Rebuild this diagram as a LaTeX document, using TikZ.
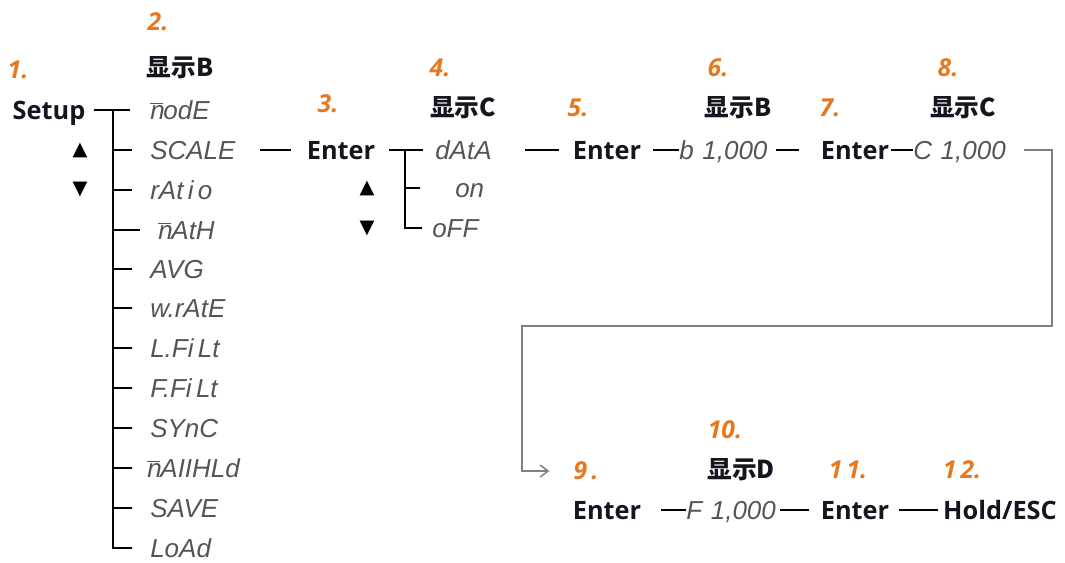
\documentclass[tikz,border=0pt]{standalone}
\usepackage{fontspec}
\setmainfont{Open Sans}
\newfontfamily\cjk{Noto Sans CJK SC}
\newfontfamily\segfont{Liberation Sans}
\newfontfamily\symfont{DejaVu Sans}
\usetikzlibrary{arrows.meta,calc}
\definecolor{numorange}{HTML}{E8781E}
\definecolor{seggray}{HTML}{555555}
\definecolor{flowgray}{HTML}{808080}
\definecolor{inkdark}{HTML}{15151F}
\newcommand{\segbarn}{\ensuremath{\overline{\hbox{n\kern-0.05em}}}}
\begin{document}
\begin{tikzpicture}[x=0.75pt,y=-0.75pt,
  lbl/.style={font=\fontsize{19}{21}\selectfont\bfseries, text=inkdark, inner sep=0pt, text height=13.6pt, text depth=0pt},
  num/.style={font=\fontsize{18.5}{20}\selectfont\bfseries\itshape, text=numorange, inner sep=0pt},
  disp/.style={font=\cjk\fontsize{18.5}{20}\selectfont\bfseries, text=inkdark, inner sep=0pt},
  seg/.style={font=\segfont\itshape\fontsize{19.5}{22}\selectfont, text=seggray, inner sep=0pt, text height=14pt, text depth=0pt, anchor=west},
  arr/.style={font=\symfont\fontsize{14.5}{16}\selectfont, inner sep=0pt},
  tree/.style={draw=black, line width=1.1pt},
  flow/.style={draw=flowgray, line width=1.1pt}
]
\useasboundingbox (0,0) rectangle (1065,562);

% ---- column 1/2 ----
\node[num] (n1) at (18,70) {1.};
\node[lbl] (setup) at (49,110) {Setup};
\node[arr] (up1) at (80,150) {▲};
\node[arr] (dn1) at (80,189) {▼};
\node[num] (n2) at (158,22) {2.};
\node[disp] (dispB1) at (180,68) {显示B};

\coordinate (trunk1) at (113,0);
\node[seg] (m1)  at (150,110) {\segbarn odE};
\node[seg] (m2)  at (150,150) {SCALE};
\node[seg] (m3)  at (150,190) {rAt\,i\,o};
\node[seg] (m4)  at (158,230) {\segbarn AtH};
\node[seg] (m5)  at (150,269) {AVG};
\node[seg] (m6)  at (150,308) {w.rAtE};
\node[seg] (m7)  at (150,348) {L.Fi\,Lt};
\node[seg] (m8)  at (150,388) {F.Fi\,Lt};
\node[seg] (m9)  at (150,428) {SYnC};
\node[seg] (m10) at (147,468) {\segbarn AIIHLd};
\node[seg] (m11) at (150,508) {SAVE};
\node[seg] (m12) at (150,548) {LoAd};

\draw[tree] ([xshift=6pt]setup.east) -- ($(m1.west)+(-20,0)$);
\draw[tree] (m1.west -| trunk1) -- (m12.west -| trunk1) -- ($(m12.west)+(-18,0)$);
\foreach \i in {2,...,9,11}{
  \draw[tree] (m\i.west -| trunk1) -- ($(m\i.west)+(-18,0)$);
}
\draw[tree] (m10.west -| trunk1) -- ($(m10.west)+(-15,0)$);

% ---- Enter 3 ----
\node[num] (n3) at (328,104) {3.};
\node[lbl] (enter1) at (341,150) {Enter};
\draw[tree] ($(m2.west)+(110,0)$) -- ($(enter1.west)+(-16,0)$);
\node[arr] (up2) at (367,188) {▲};
\node[arr] (dn2) at (367,228) {▼};

% ---- column 4 ----
\node[num] (n4) at (440,68) {4.};
\node[disp] (dispC1) at (463,108) {显示C};
\coordinate (trunk2) at (405,0);
\node[seg] (d1) at (435,150) {dAtA};
\node[seg] (d2) at (455,188) {on};
\node[seg] (d3) at (432,228) {oFF};
\draw[tree] ($(enter1.east)+(14,0)$) -- ($(d1.west)+(-12,0)$);
\draw[tree] (d1.west -| trunk2) -- (d3.west -| trunk2) -- ($(d3.west)+(-10,0)$);
\draw[tree] (d2.west -| trunk2) -- ($(d2.west)+(-35,0)$);

% ---- Enter 5 ----
\node[num] (n5) at (578,108) {5.};
\node[lbl] (enter2) at (607,150) {Enter};
\draw[tree] ($(m2.west)+(375,0)$) -- ($(enter2.west)+(-14,0)$);

% ---- 6: display B ----
\node[num] (n6) at (718,68) {6.};
\node[disp] (dispB2) at (738,108) {显示B};
\node[seg] (vb) at (679,150) {b\,\,1,000};
\draw[tree] ($(enter2.east)+(12,0)$) -- (vb.west);

% ---- 7: Enter ----
\node[num] (n7) at (830,108) {7.};
\node[lbl] (enter3) at (855,150) {Enter};
\draw[tree] ($(vb.east)+(8,0)$) -- ($(enter3.west)+(-22,0)$);

% ---- 8: display C ----
\node[num] (n8) at (948,68) {8.};
\node[disp] (dispC2) at (963,108) {显示C};
\node[seg] (vc) at (913,150) {C\,\,1,000};
\draw[tree] ($(enter3.east)+(2,0)$) -- (vc.west);

% ---- flow to second row ----
\coordinate (turnR) at (1052,326);
\coordinate (turnL) at (522,326);
\node[num] (n9) at (586,471) {9\,.};
\draw[flow, -{Straight Barb[length=6pt,width=9pt]}] ($(vc.east)+(18,0)$) -| (turnR) -- (turnL) |- ($(n9.west)+(-24,0)$);

% ---- second row ----
\node[lbl] (enter4) at (607,510) {Enter};
\node[num] (n10) at (725,430) {10.};
\node[disp] (dispD) at (741,470) {显示D};
\node[seg] (vf) at (686,510) {F\,\,1,000};
\draw[tree] ($(enter4.east)+(20,0)$) -- (vf.west);

\node[num] (n11) at (848,470) {1\,1.};
\node[lbl] (enter5) at (855,510) {Enter};
\draw[tree] ($(vf.east)+(4,0)$) -- ($(enter5.west)+(-12,0)$);

\node[num] (n12) at (962,470) {1\,2.};
\node[lbl] (hold) at (1000,510) {Hold/ESC};
\draw[tree] ($(enter5.east)+(10,0)$) -- ($(hold.west)+(-5,0)$);
\end{tikzpicture}
\end{document}
